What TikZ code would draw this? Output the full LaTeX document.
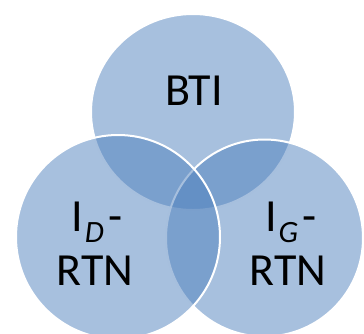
\documentclass[tikz,border=0pt]{standalone}
\usepackage{fontspec}
\setmainfont{Carlito}
\definecolor{vennblue}{HTML}{4F81BD}
\tikzset{
  venn/.style={fill=vennblue, fill opacity=0.5, draw=white, line width=2pt},
  lbl/.style={anchor=base, inner sep=0pt, font=\fontsize{46}{46}\selectfont, text=black}
}
\newcommand{\subl}[1]{\kern1.5pt\raisebox{-11pt}{\fontsize{31}{31}\selectfont\itshape #1}\kern4pt}
\begin{document}
\begin{tikzpicture}[x=1pt,y=-1pt]
\useasboundingbox (0,0) rectangle (364,333);
\begin{scope}
\clip (0,0) rectangle (364,333);
\path[venn] (193,112) ellipse [x radius=102, y radius=98];
\path[venn] (264.5,238) circle [radius=98.5];
\path[venn] (118,237) circle [radius=102];
\end{scope}
\node[lbl] (bti) at (194,105) {BTI};
\node[lbl] (id1) at (97,231) {I\subl{D}-};
\node[lbl] (id2) at (95,285) {RTN};
\node[lbl] (ig1) at (291,231) {I\subl{G}-};
\node[lbl] (ig2) at (288,285) {RTN};
\end{tikzpicture}
\end{document}
